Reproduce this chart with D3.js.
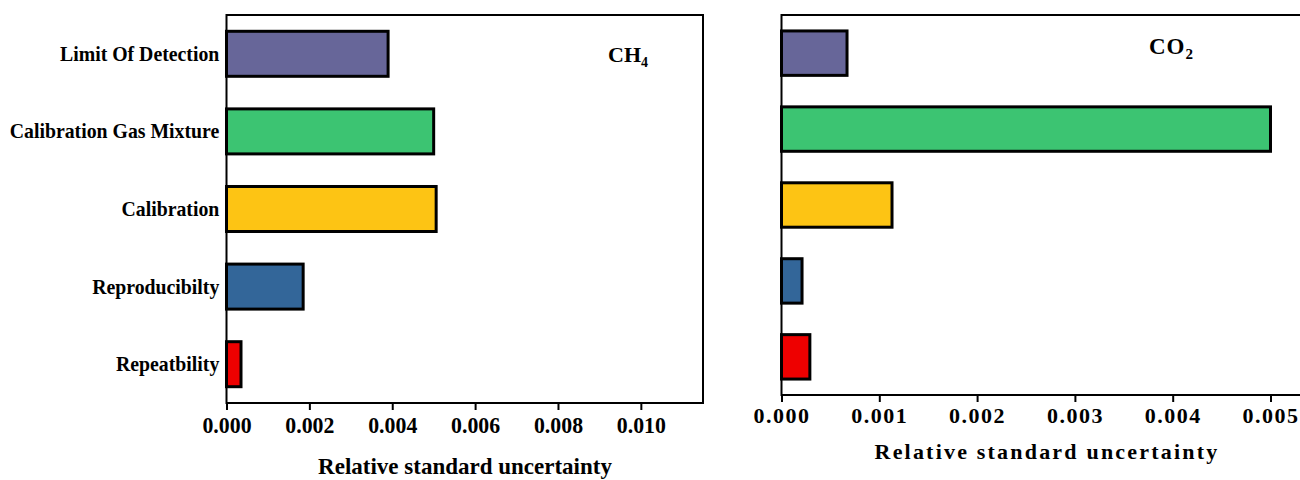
<!DOCTYPE html>
<html>
<head>
<meta charset="utf-8">
<script src="https://cdn.jsdelivr.net/npm/d3@7"></script>
<style>
  body { margin: 0; background: #fff; }
  text { font-family: "Times New Roman", "Liberation Serif", serif; font-weight: bold; fill: #000; }
</style>
</head>
<body>
<div class="chart"></div>
<script>
// data, top to bottom
var categories = ["Limit Of Detection", "Calibration Gas Mixture", "Calibration", "Reproducibilty", "Repeatbility"];
var ch4Values = [0.0039, 0.0050, 0.00506, 0.00185, 0.00035];
var co2Values = [0.00067, 0.0050, 0.00113, 0.00021, 0.00029];
var ch4Ticks = [0, 0.002, 0.004, 0.006, 0.008, 0.010];
var co2Ticks = [0, 0.001, 0.002, 0.003, 0.004, 0.005];
var barColors = ["#676699", "#3cc472", "#fdc414", "#336699", "#ee0000"];

var svgWidth = 1300;
var svgHeight = 480;

var svg = d3.select(".chart")
  .append("svg")
  .attr("width", svgWidth)
  .attr("height", svgHeight);

var fmt = d3.format(".3f");

// ---------- CH4 panel ----------
var x1 = d3.scaleLinear().domain([0, 0.0115]).range([226.5, 703]);
var y1 = d3.scaleBand().domain(categories).range([15, 403]).paddingInner(0.42).paddingOuter(0.21);

var g1 = svg.append("g");

g1.selectAll("rect.bar")
  .data(ch4Values)
  .enter()
  .append("rect")
  .attr("class", "bar")
  .attr("x", x1(0))
  .attr("y", (d, i) => y1(categories[i]))
  .attr("width", d => x1(d) - x1(0))
  .attr("height", y1.bandwidth())
  .attr("fill", (d, i) => barColors[i])
  .attr("stroke", "#000")
  .attr("stroke-width", 3);

// frame
g1.append("rect")
  .attr("x", x1.range()[0])
  .attr("y", 15)
  .attr("width", x1.range()[1] - x1.range()[0])
  .attr("height", 403 - 15)
  .attr("fill", "none")
  .attr("stroke", "#000")
  .attr("stroke-width", 2);

var xAxis1 = d3.axisBottom(x1).tickValues(ch4Ticks).tickFormat(fmt).tickSize(7).tickSizeOuter(0);
var ax1 = g1.append("g")
  .attr("transform", "translate(0,403)")
  .call(xAxis1);
ax1.select(".domain").remove();
ax1.selectAll(".tick line").attr("stroke", "#000").attr("stroke-width", 2);
ax1.selectAll(".tick text")
  .attr("y", 14)
  .attr("font-size", 23)
  .attr("transform", "scale(0.95,1)")
  .style("font-family", null);

var yAxis1 = d3.axisLeft(y1).tickSize(0).tickPadding(8);
var ay1 = g1.append("g")
  .attr("transform", `translate(${x1(0)},0)`)
  .call(yAxis1);
ay1.select(".domain").remove();
ay1.selectAll(".tick text")
  .attr("font-size", 22)
  .attr("transform", "scale(0.9,1)")
  .style("font-family", null);

g1.append("text")
  .attr("x", 465)
  .attr("y", 474)
  .attr("text-anchor", "middle")
  .attr("font-size", 23)
  .text("Relative standard uncertainty");

var lab1 = g1.append("text").attr("x", 608).attr("y", 62).attr("font-size", 22);
lab1.append("tspan").text("CH");
lab1.append("tspan").attr("font-size", 14).attr("dy", 5).text("4");

// ---------- CO2 panel ----------
var x2 = d3.scaleLinear().domain([0, 0.0055]).range([781.5, 1319.4]);
var y2 = d3.scaleBand().domain(categories).range([15, 395]).paddingInner(0.415).paddingOuter(0.21);

var g2 = svg.append("g");

g2.selectAll("rect.bar")
  .data(co2Values)
  .enter()
  .append("rect")
  .attr("class", "bar")
  .attr("x", x2(0))
  .attr("y", (d, i) => y2(categories[i]))
  .attr("width", d => x2(d) - x2(0))
  .attr("height", y2.bandwidth())
  .attr("fill", (d, i) => barColors[i])
  .attr("stroke", "#000")
  .attr("stroke-width", 3);

g2.append("rect")
  .attr("x", x2.range()[0])
  .attr("y", 15)
  .attr("width", x2.range()[1] - x2.range()[0])
  .attr("height", 395 - 15)
  .attr("fill", "none")
  .attr("stroke", "#000")
  .attr("stroke-width", 2);

var xAxis2 = d3.axisBottom(x2).tickValues(co2Ticks).tickFormat(fmt).tickSize(7).tickSizeOuter(0);
var ax2 = g2.append("g")
  .attr("transform", "translate(0,395)")
  .call(xAxis2);
ax2.select(".domain").remove();
ax2.selectAll(".tick line").attr("stroke", "#000").attr("stroke-width", 2);
ax2.selectAll(".tick text")
  .attr("y", 12)
  .attr("font-size", 22)
  .attr("letter-spacing", 1.5)
  .style("font-family", null);

g2.append("text")
  .attr("x", 1047)
  .attr("y", 459)
  .attr("text-anchor", "middle")
  .attr("font-size", 22)
  .attr("letter-spacing", 2.2)
  .text("Relative standard uncertainty");

var lab2 = g2.append("text").attr("x", 1149).attr("y", 54).attr("font-size", 23).attr("letter-spacing", 1);
lab2.append("tspan").text("CO");
lab2.append("tspan").attr("font-size", 15).attr("dy", 5).text("2");
</script>
</body>
</html>
